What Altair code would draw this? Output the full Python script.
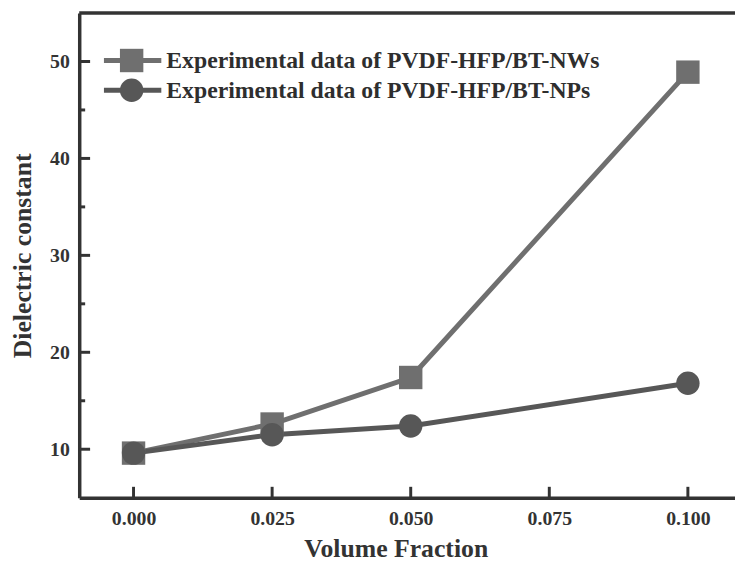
import altair as alt
import pandas as pd

# ---- data ----
volume_fraction = [0.0, 0.025, 0.05, 0.1]
nws_values = [9.6, 12.6, 17.4, 48.9]
nps_values = [9.6, 11.5, 12.4, 16.8]
series_names = ["Experimental data of PVDF-HFP/BT-NWs",
                "Experimental data of PVDF-HFP/BT-NPs"]
x_ticks = [0.0, 0.025, 0.05, 0.075, 0.1]
y_ticks_major = [10, 20, 30, 40, 50]
y_ticks_minor = [15, 25, 35, 45]

W, H = 663, 490
FONT = "Liberation Serif"
AX = "#333333"
colors = ["#6f6f6f", "#575757"]
shapes = ["square", "circle"]

df = pd.DataFrame({
    "x": volume_fraction * 2,
    "y": nws_values + nps_values,
    "s": [series_names[0]] * 4 + [series_names[1]] * 4,
})

xscale = alt.Scale(domain=[-0.0098, 0.1085], nice=False, zero=False)
yscale = alt.Scale(domain=[5, 55], nice=False, zero=False)
xaxis = alt.Axis(values=x_ticks, format=".3f", grid=False, ticks=False,
                 domainColor=AX, domainWidth=3.5, labelFont=FONT, labelFontSize=20,
                 labelFontWeight="bold", labelColor="#333", labelPadding=11,
                 titleFont=FONT, titleFontSize=26, titleFontWeight="bold",
                 titleColor="#333", titlePadding=7, titleX=320, titleAnchor="middle")
yaxis = alt.Axis(values=y_ticks_major, format="d", grid=False, ticks=False,
                 domainColor=AX, domainWidth=3.5, labelFont=FONT, labelFontSize=20,
                 labelFontWeight="bold", labelColor="#333", labelPadding=10,
                 titleFont=FONT, titleFontSize=26, titleFontWeight="bold",
                 titleColor="#333", titlePadding=14)
XT = "Volume Fraction"
YT = "Dielectric constant"
X = alt.X("x:Q", scale=xscale, axis=xaxis, title=XT)
Y = alt.Y("y:Q", scale=yscale, axis=yaxis, title=YT)
color = alt.Color("s:N", scale=alt.Scale(domain=series_names, range=colors), legend=None)
shape = alt.Shape("s:N", scale=alt.Scale(domain=series_names, range=shapes), legend=None)

base = alt.Chart(df)
lines = base.mark_line(strokeWidth=5).encode(x=X, y=Y, color=color, detail="s:N")
points = base.mark_point(filled=True, size=560, opacity=1).encode(x=X, y=Y, color=color, shape=shape)

ymaj = alt.Chart(pd.DataFrame({"y": y_ticks_major})).mark_rule(strokeWidth=3, color=AX).encode(
    y=Y, x=alt.value(0), x2=alt.value(11))
ymin = alt.Chart(pd.DataFrame({"y": y_ticks_minor})).mark_rule(strokeWidth=3, color=AX).encode(
    y=Y, x=alt.value(0), x2=alt.value(6))
xmaj = alt.Chart(pd.DataFrame({"x": x_ticks})).mark_rule(strokeWidth=3, color=AX).encode(
    x=X, y=alt.value(H), y2=alt.value(H - 11))
top = alt.Chart(pd.DataFrame({"x": [0]})).mark_rule(strokeWidth=3.5, color=AX).encode(
    x=alt.value(0), x2=alt.value(W + 2), y=alt.value(0))

# manual legend
leg_y = [48, 78]
leg_layers = []
for i, name in enumerate(series_names):
    d = alt.Chart(pd.DataFrame({"s": [name]}))
    leg_layers.append(d.mark_rule(strokeWidth=5, color=colors[i]).encode(
        x=alt.value(25), x2=alt.value(83), y=alt.value(leg_y[i])))
    leg_layers.append(d.mark_point(filled=True, size=560, opacity=1, shape=shapes[i],
                                   color=colors[i]).encode(
        x=alt.value(53), y=alt.value(leg_y[i])))
    leg_layers.append(d.mark_text(align="left", baseline="middle", font=FONT, fontSize=24,
                                  fontWeight="bold", color="#2e2e2e").encode(
        x=alt.value(88), y=alt.value(leg_y[i] + 1), text="s:N"))

chart = alt.layer(lines, points, ymaj, ymin, xmaj, top, *leg_layers).properties(
    width=W, height=H,
    autosize=alt.AutoSizeParams(type="none"),
    padding={"left": 72, "top": 2, "right": 0, "bottom": 68},
    background="white",
).configure_view(stroke=None)

chart.save("out.html", embed_options={"renderer": "svg", "actions": False})
